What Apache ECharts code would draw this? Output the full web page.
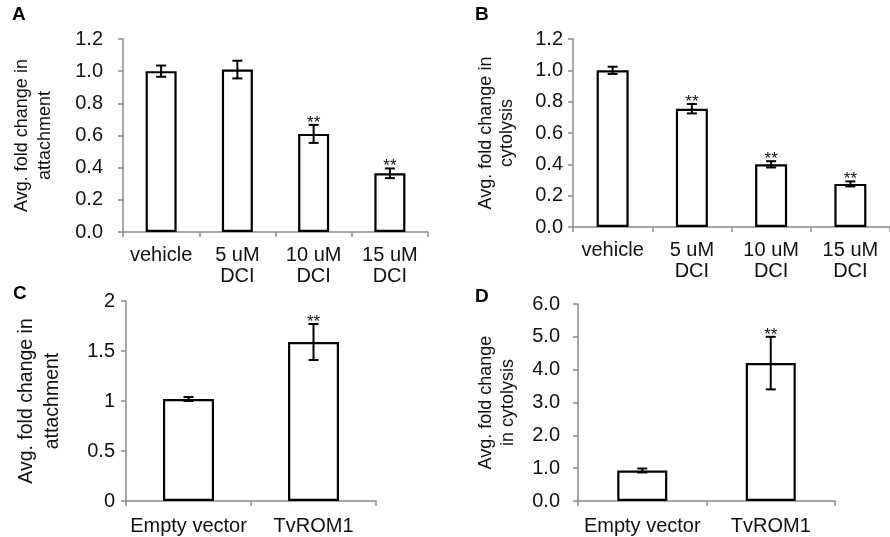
<!DOCTYPE html>
<html>
<head>
    <meta charset="UTF-8">
    <title>DCI / TvROM1 attachment and cytolysis</title>
    <script src="https://cdn.jsdelivr.net/npm/echarts@6/dist/echarts.min.js"></script>
    <style>
        body { margin: 0; background: #fff; }
        #chart { width: 890px; height: 537px; }
    </style>
</head>
<body>
<div id="chart"></div>
<script type="text/javascript">
    // categories
    var catsDCI = ['vehicle', '5 uM\nDCI', '10 uM\nDCI', '15 uM\nDCI'];
    var catsROM = ['Empty vector', 'TvROM1'];

    // A: attachment with DCI
    var attachDCI = [1.00, 1.01, 0.61, 0.365];
    var attachDCIErr = [0.035, 0.055, 0.056, 0.03];
    var attachDCISig = [0, 0, 1, 1];

    // B: cytolysis with DCI
    var cytoDCI = [1.00, 0.755, 0.40, 0.275];
    var cytoDCIErr = [0.023, 0.03, 0.02, 0.016];
    var cytoDCISig = [0, 1, 1, 1];

    // C: attachment, TvROM1 overexpression
    var attachROM = [1.02, 1.59];
    var attachROMErr = [0.02, 0.18];
    var attachROMSig = [0, 1];

    // D: cytolysis, TvROM1 overexpression
    var cytoROM = [0.93, 4.2];
    var cytoROMErr = [0.06, 0.8];
    var cytoROMSig = [0, 1];

    var FONT = '"Liberation Sans", Arial, sans-serif';
    var AXIS_GREY = '#8a8a8a';
    var TEXT = '#111';

    var chart = echarts.init(document.getElementById('chart'));

    var grids = [], xAxes = [], yAxes = [], series = [];

    function errorBars(params, api) {
        var x = api.value(0);
        var v = api.value(1), e = api.value(2), sig = api.value(3);
        var top = api.coord([x, v + e]);
        var bot = api.coord([x, v - e]);
        var cap = 5;
        var style = { stroke: '#000', lineWidth: 2 };
        var children = [
            { type: 'line', shape: { x1: top[0], y1: top[1], x2: bot[0], y2: bot[1] }, style: style },
            { type: 'line', shape: { x1: top[0] - cap, y1: top[1], x2: top[0] + cap, y2: top[1] }, style: style },
            { type: 'line', shape: { x1: bot[0] - cap, y1: bot[1], x2: bot[0] + cap, y2: bot[1] }, style: style }
        ];
        if (sig) {
            children.push({
                type: 'text',
                style: {
                    text: '**', x: top[0], y: top[1] - 2,
                    align: 'center', verticalAlign: 'middle',
                    font: '17px ' + FONT, fill: TEXT
                }
            });
        }
        return { type: 'group', children: children };
    }

    function addPanel(p) {
        var i = grids.length;
        grids.push({ left: p.left, top: p.top, width: p.width, height: p.height, containLabel: false });
        xAxes.push({
            type: 'category', gridIndex: i, data: p.cats,
            axisLine: { lineStyle: { color: AXIS_GREY, width: 1.5 } },
            axisTick: { show: true, length: 5, lineStyle: { color: AXIS_GREY, width: 1.5 } },
            axisLabel: { color: TEXT, fontSize: 20, fontFamily: FONT, margin: p.xMargin, lineHeight: 21, interval: 0 }
        });
        yAxes.push({
            type: 'value', gridIndex: i, min: 0, max: p.max, interval: p.step,
            name: p.name, nameLocation: 'middle', nameGap: p.nameGap,
            nameTextStyle: { color: TEXT, fontSize: p.nameSize, fontFamily: FONT, lineHeight: p.nameLH },
            axisLine: { show: true, lineStyle: { color: AXIS_GREY, width: 1.5 } },
            axisTick: { show: true, length: 5, lineStyle: { color: AXIS_GREY, width: 1.5 } },
            splitLine: { show: false },
            axisLabel: {
                color: TEXT, fontSize: 20, fontFamily: FONT, margin: p.labelMargin,
                formatter: function (v) { return p.fixed ? v.toFixed(1) : String(v); }
            }
        });
        series.push({
            type: 'bar', xAxisIndex: i, yAxisIndex: i, data: p.values, barWidth: p.barWidth,
            itemStyle: { color: '#fff', borderColor: '#000', borderWidth: 2.2 },
            silent: true
        });
        var eb = p.values.map(function (v, k) { return [k, v, p.err[k], p.sig[k]]; });
        series.push({
            type: 'custom', xAxisIndex: i, yAxisIndex: i, data: eb,
            renderItem: errorBars, z: 5, silent: true
        });
    }

    addPanel({ left: 123, top: 39, width: 305, height: 193, cats: catsDCI, values: attachDCI,
        err: attachDCIErr, sig: attachDCISig, max: 1.2, step: 0.2, fixed: true, barWidth: 31,
        name: 'Avg. fold change in\nattachment', nameGap: 66, nameLH: 23, nameSize: 18,
        labelMargin: 20, xMargin: 13 });
    addPanel({ left: 573, top: 39, width: 325, height: 188, cats: catsDCI, values: cytoDCI,
        err: cytoDCIErr, sig: cytoDCISig, max: 1.2, step: 0.2, fixed: true, barWidth: 32,
        name: 'Avg. fold change in\ncytolysis', nameGap: 55, nameLH: 21, nameSize: 18,
        labelMargin: 10, xMargin: 13 });
    addPanel({ left: 126, top: 301, width: 250, height: 200, cats: catsROM, values: attachROM,
        err: attachROMErr, sig: attachROMSig, max: 2, step: 0.5, fixed: false, barWidth: 51,
        name: 'Avg. fold change in\nattachment', nameGap: 60, nameLH: 26, nameSize: 19.5,
        labelMargin: 11, xMargin: 15 });
    addPanel({ left: 578, top: 304, width: 257, height: 197, cats: catsROM, values: cytoROM,
        err: cytoROMErr, sig: cytoROMSig, max: 6, step: 1, fixed: true, barWidth: 50,
        name: 'Avg. fold change\nin cytolysis', nameGap: 59, nameLH: 22, nameSize: 18,
        labelMargin: 18, xMargin: 15 });

    function letter(t, x, y) {
        return { type: 'text', left: x, top: y,
            style: { text: t, font: 'bold 19px ' + FONT, fill: '#000' } };
    }

    var option = {
        backgroundColor: '#fff',
        animation: false,
        textStyle: { fontFamily: FONT },
        grid: grids,
        xAxis: xAxes,
        yAxis: yAxes,
        series: series,
        graphic: [
            letter('A', 12, 5),
            letter('B', 475, 5),
            letter('C', 13, 284),
            letter('D', 475, 287)
        ]
    };
    chart.setOption(option);
</script>
</body>
</html>
